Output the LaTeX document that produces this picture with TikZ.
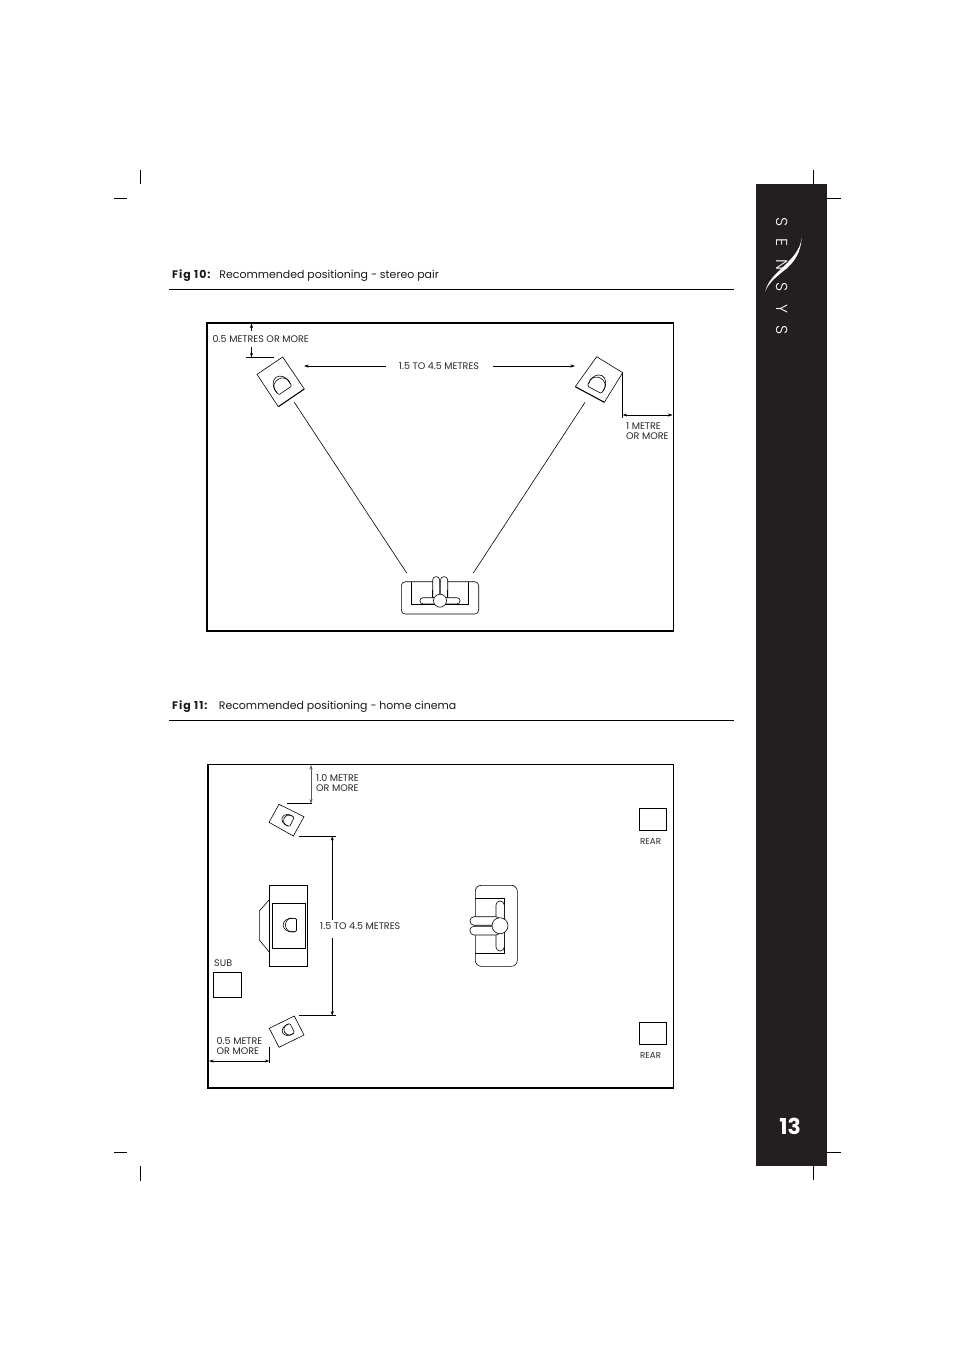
\documentclass[tikz,border=0pt]{standalone}
\usepackage{fontspec}
\setmainfont{Poppins}
\newfontfamily\brandfont{Poppins Light}
\usetikzlibrary{arrows.meta}
\definecolor{band}{HTML}{231F20}
\tikzset{
  x=1bp,y=-1bp,
  frame/.style={draw=black,line width=1.5pt},
  rulebar/.style={draw=black,line width=0.6pt},
  crop/.style={draw=black,line width=0.7pt},
  obj/.style={draw=black,line width=0.6pt},
  heavy/.style={draw=black,line width=1.1pt},
  dim/.style={draw=black,line width=0.6pt},
  both/.style={dim,{Stealth[length=4.5pt,width=3pt]}-{Stealth[length=4.5pt,width=3pt]}},
  toend/.style={dim,-{Stealth[length=4.5pt,width=3pt]}},
  lab/.style={inner sep=0pt,font=\fontsize{9.6}{10}\selectfont,text=black!85,align=left},
  labs/.style={lab,font=\fontsize{8.7}{10}\selectfont},
  figt/.style={inner sep=0pt,anchor=base west,font=\fontsize{11}{12}\selectfont,text=black!90},
  woofer/.pic={
    \draw[obj,rounded corners=1.3pt] (-6.7,0) -- (-6.7,5.5) -- (6.7,5.5) -- (6.7,0);
    \draw[obj] (6.7,0) .. controls (6.7,-3) and (3.7,-5.5) .. (0,-5.5) .. controls (-3.7,-5.5) and (-6.7,-3) .. (-6.7,0);
    \draw[obj] (-6.7,3.5) .. controls (-8,-3) and (-4,-7.9) .. (0,-7.9) .. controls (4,-7.9) and (8,-3) .. (6.7,3.5);
  }
}
\begin{document}
\begin{tikzpicture}
\useasboundingbox (0,0) rectangle (954,1351);
\fill[white] (0,0) rectangle (954,1351);

% crop marks
\draw[crop] (140.6,170) -- (140.6,184);
\draw[crop] (114,198) -- (127,198);
\draw[crop] (114,1152) -- (127,1152);
\draw[crop] (140.6,1166) -- (140.6,1181);
\draw[crop] (813.3,170) -- (813.3,184);
\draw[crop] (827,198.3) -- (841,198.3);
\draw[crop] (827,1152.3) -- (841,1152.3);
\draw[crop] (813.3,1166) -- (813.3,1180);

% side band
\fill[band] (756,184) rectangle (827,1165.7);
\node (brand) [inner sep=0pt,rotate=-90,text=white,font=\brandfont\fontsize{16}{16}\selectfont] at (782,276) {\spaceskip=12.5pt S E N S Y S};
\fill[white] (801.7,237.7) .. controls (800,251) and (791.7,258.3) .. (783.3,266.7)
  .. controls (775,275) and (768.3,280) .. (765,291.7)
  .. controls (769.3,281.7) and (776.7,276.7) .. (786.7,268.3)
  .. controls (795,261) and (800.7,252.3) .. (801.7,237.7);
\node (page) [inner sep=0pt,text=white,font=\bfseries\fontsize{22}{22}\selectfont] at (790,1126) {13};

% ---------- Fig 10 ----------
\node (t10) [figt] at (172,278) {\textbf{\addfontfeature{LetterSpace=9}Fig 10:}\hspace{4bp} Recommended positioning - stereo pair};
\draw[rulebar] (169,289) -- (734,289);
\draw[frame] (207,323) rectangle (673.5,631);

% left speaker
\draw[obj] (304.3,389) -- (282.7,357) -- (257,374.3) -- (278.3,406.7);
\draw[heavy] (278.3,406.7) -- (304.3,389);
\pic[rotate=34,scale=1.2] at (281.5,385) {woofer};
% right speaker
\draw[obj] (575.3,386.7) -- (596.7,356.7) -- (622.7,372.7) -- (604.3,402.3);
\draw[heavy] (575.3,386.7) -- (604.3,402.3);
\pic[rotate=-28,scale=1.2] at (597.5,384) {woofer};
% sightlines
\coordinate (sl1) at (294.3,402.3); \coordinate (sl2) at (406.7,573);
\coordinate (sr1) at (585,402.3);   \coordinate (sr2) at (473.3,573);
\draw[dim] (sl1) -- (sl2);
\draw[dim] (sr1) -- (sr2);
% sofa
\draw[obj,rounded corners=4pt] (401.3,581.7) rectangle (478.7,614);
\draw[obj] (411,581.7) -- (411,604) -- (468.7,604) -- (468.7,581.7);
\draw[obj,fill=white,rounded corners=3.2pt] (432.7,576.7) rectangle (439.6,604);
\draw[obj,fill=white,rounded corners=3.2pt] (440.6,576.7) rectangle (447.7,604);
\draw[obj,fill=white,rounded corners=3pt] (420,597.7) rectangle (460,603.9);
\draw[obj,fill=white] (440,600.7) circle[radius=6.5];
\draw[obj] (432.7,597.7) -- (432.7,590);
\draw[obj] (447.7,597.7) -- (447.7,590);

% dims fig 10
\coordinate (a0) at (251.5,323.5); \coordinate (a1) at (251.5,331);
\coordinate (a2) at (251.5,347);   \coordinate (a3) at (251.5,357.3);
\coordinate (a4) at (246,357.3);   \coordinate (a5) at (274,357.3);
\draw[toend] (a1) -- (a0);
\draw[toend] (a2) -- (a3);
\draw[dim] (a4) -- (a5);
\node (l05) [lab,anchor=west] at (212.5,339.5) {0.5 METRES OR MORE};
\coordinate (b0) at (386,366); \coordinate (b1) at (304,366);
\coordinate (b2) at (493,366); \coordinate (b3) at (575,366);
\draw[toend] (b0) -- (b1);
\draw[toend] (b2) -- (b3);
\node (l15) [lab] at (439,366) {1.5 TO 4.5 METRES};
\coordinate (c0) at (622.7,372.7); \coordinate (c1) at (622.7,418);
\coordinate (c2) at (622.7,415);   \coordinate (c3) at (672.5,415);
\draw[dim] (c0) -- (c1);
\draw[both] (c2) -- (c3);
\node (l1m) [lab,anchor=north west] at (626,422) {1 METRE\\OR MORE};

% ---------- Fig 11 ----------
\node (t11) [figt] at (172,709) {\textbf{\addfontfeature{LetterSpace=9}Fig 11:}\hspace{6.5bp} Recommended positioning - home cinema};
\draw[rulebar] (169,720.5) -- (734,720.5);
\draw[frame] (208,764.5) rectangle (673.5,1088);

% front left
\draw[obj] (279,804.3) -- (304,816.7) -- (293.3,836) -- (269,822.3) -- cycle;
\pic[rotate=64,scale=0.8] at (288,820) {woofer};
% front right
\draw[obj] (269.3,1028.3) -- (294.3,1016) -- (304,1035) -- (279,1047.3) -- cycle;
\pic[rotate=116,scale=0.8] at (288.3,1030) {woofer};
% centre
\draw[obj] (269,885.3) rectangle (307.7,966.6);
\draw[obj] (272.3,903.3) rectangle (305.7,948.7);
\draw[obj] (269,900) -- (259.3,911) -- (259.3,940) -- (269,951.7);
\pic[rotate=90] at (291,925) {woofer};
% couch
\draw[obj,rounded corners=6pt] (475.3,885.3) rectangle (517.3,966.3);
\draw[obj] (475.3,898.3) -- (504.7,898.3) -- (504.7,953.3) -- (475.3,953.3);
\draw[obj,fill=white,rounded corners=4pt] (496,901) rectangle (504.3,951);
\draw[obj,fill=white,rounded corners=4pt] (470,916.7) rectangle (500,925.2);
\draw[obj,fill=white,rounded corners=4pt] (470,926.2) rectangle (500,935);
\draw[obj,fill=white] (500,925.7) circle[radius=8];

% boxes
\node (subbox) [obj,inner sep=0pt,minimum width=28pt,minimum height=24.5pt,anchor=north west] at (212.7,972.3) {};
\node (rear1) [obj,inner sep=0pt,minimum width=27pt,minimum height=22pt,anchor=north west] at (639,808) {};
\node (rear2) [obj,inner sep=0pt,minimum width=27pt,minimum height=22pt,anchor=north west] at (639,1022) {};
\node (lsub) [lab,anchor=west] at (214,963) {SUB};
\node (lr1) [labs,anchor=west] at (640,841) {REAR};
\node (lr2) [labs,anchor=west] at (640,1055) {REAR};

% dims fig 11
\coordinate (d0) at (311,765); \coordinate (d1) at (311,803.7);
\coordinate (d2) at (286.7,803.7); \coordinate (d3) at (312,803.7);
\draw[both,draw=black!65,line width=0.9pt] (d0) -- (d1);
\draw[dim] (d2) -- (d3);
\node (l10) [lab,anchor=north west] at (316,774.5) {1.0 METRE\\OR MORE};
\coordinate (e0) at (299.3,836); \coordinate (e1) at (335.7,836);
\coordinate (e2) at (332.3,836); \coordinate (e3) at (332.3,920);
\coordinate (e4) at (332.3,938); \coordinate (e5) at (332.3,1015.7);
\coordinate (e6) at (299.3,1015.7); \coordinate (e7) at (335.7,1015.7);
\draw[dim] (e0) -- (e1);
\draw[toend] (e3) -- (e2);
\draw[toend] (e4) -- (e5);
\draw[dim] (e6) -- (e7);
\node (l15b) [lab,anchor=west] at (320,926) {1.5 TO 4.5 METRES};
\coordinate (f0) at (209,1061); \coordinate (f1) at (269.3,1061);
\coordinate (f2) at (269.3,1047); \coordinate (f3) at (269.3,1063);
\draw[both] (f0) -- (f1);
\draw[dim] (f2) -- (f3);
\node (l05b) [lab,anchor=north west] at (216.5,1037) {0.5 METRE\\OR MORE};
\end{tikzpicture}
\end{document}
